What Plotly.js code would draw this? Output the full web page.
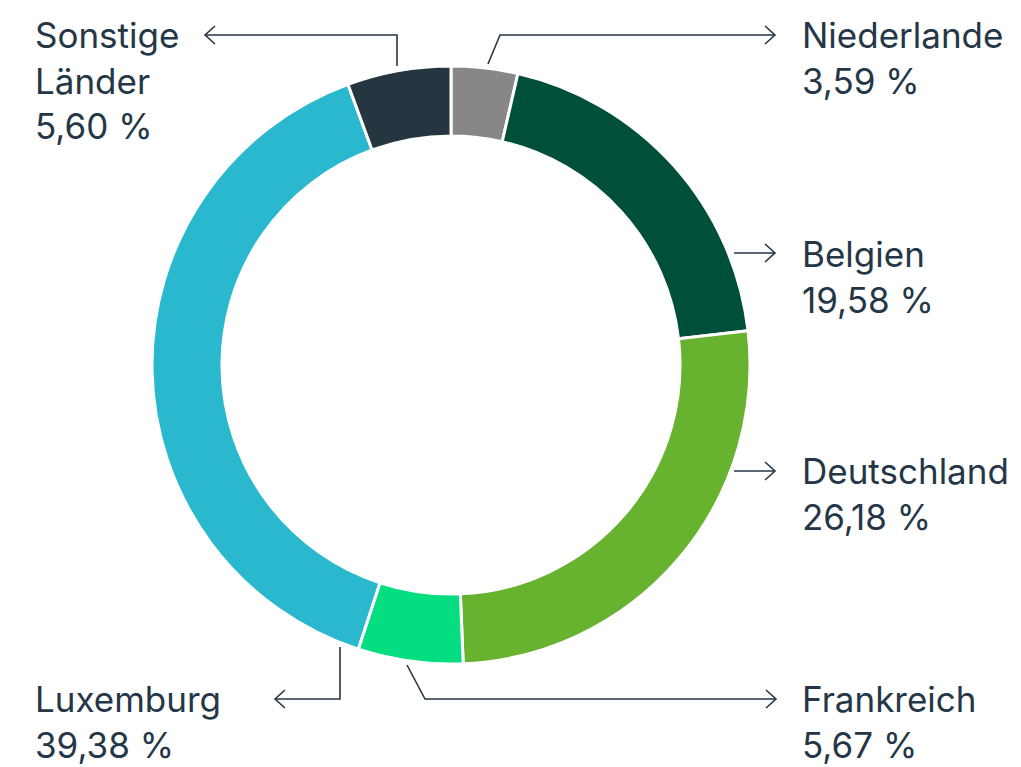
<!DOCTYPE html>
<html>
<head>
<meta charset="utf-8">
<script src="https://cdn.plot.ly/plotly-3.0.1.min.js"></script>
<style>html,body{margin:0;padding:0;background:#fff;}#chart{width:1021px;height:767px;}</style>
</head>
<body>
<div id="chart"></div>
<script>
// ---- data ----
const countries = ["Niederlande", "Belgien", "Deutschland", "Frankreich", "Luxemburg", "Sonstige Länder"];
const labelLines = ["Niederlande", "Belgien", "Deutschland", "Frankreich", "Luxemburg", "Sonstige<br>Länder"];
const shares = [3.59, 19.58, 26.18, 5.67, 39.38, 5.60];
const sliceColors = ["#878787", "#004f3a", "#67b22f", "#05de80", "#29b8cd", "#263640"];

// ---- layout helpers ----
const W = 1021, H = 767;
const TXT = "#253746";
const FONT = "Inter, 'Open Sans', sans-serif";
const fx = x => x / W;
const fy = y => 1 - y / H;

// label positions (pixel): left x, top y
const labelPos = [
  {x: 800, y: 12},
  {x: 800, y: 231},
  {x: 800, y: 448},
  {x: 800, y: 676},
  {x: 33, y: 676},
  {x: 33, y: 12}
];
// leader lines (pixel points), arrow at last point
const leaders = [
  [[488, 64], [500, 35], [775, 35]],
  [[734, 253], [775, 253]],
  [[734, 471], [775, 471]],
  [[407, 665], [425, 699], [776, 699]],
  [[340, 647], [340, 699], [275, 699]],
  [[397, 66], [397, 35], [205, 35]]
];

const fmt = v => v.toFixed(2).replace(".", ",") + " %";

const annotations = countries.map((c, i) => ({
  xref: "paper", yref: "paper",
  x: fx(labelPos[i].x), y: fy(labelPos[i].y),
  xanchor: "left", yanchor: "top", align: "left",
  showarrow: false,
  text: labelLines[i] + "<br>" + fmt(shares[i]),
  font: {family: FONT, size: 35, color: TXT}
}));

const shapes = [];
leaders.forEach(pts => {
  let d = "M" + pts.map(p => fx(p[0]) + "," + fy(p[1])).join(" L");
  shapes.push({type: "path", xref: "paper", yref: "paper", path: d,
    line: {color: TXT, width: 1.6}});
  const tip = pts[pts.length - 1];
  const prev = pts[pts.length - 2];
  const dir = Math.sign(tip[0] - prev[0]);
  const a1 = [tip[0] - dir * 10, tip[1] - 9];
  const a2 = [tip[0] - dir * 10, tip[1] + 9];
  const h = "M" + fx(a1[0]) + "," + fy(a1[1]) + " L" + fx(tip[0]) + "," + fy(tip[1]) + " L" + fx(a2[0]) + "," + fy(a2[1]);
  shapes.push({type: "path", xref: "paper", yref: "paper", path: h,
    line: {color: TXT, width: 1.6}});
});

const trace = {
  type: "pie",
  labels: countries,
  values: shares,
  sort: false,
  direction: "clockwise",
  rotation: 0,
  hole: 0.766,
  textinfo: "none",
  hoverinfo: "label+percent",
  showlegend: false,
  marker: {colors: sliceColors, line: {color: "#ffffff", width: 3}},
  domain: {x: [152 / W, 750 / W], y: [1 - 664 / H, 1 - 66 / H]}
};

const layout = {
  width: W, height: H,
  margin: {l: 0, r: 0, t: 0, b: 0},
  paper_bgcolor: "#ffffff",
  plot_bgcolor: "#ffffff",
  showlegend: false,
  annotations: annotations,
  shapes: shapes,
  font: {family: FONT, color: TXT}
};

Plotly.newPlot("chart", [trace], layout, {displayModeBar: false, staticPlot: true});
</script>
</body>
</html>
